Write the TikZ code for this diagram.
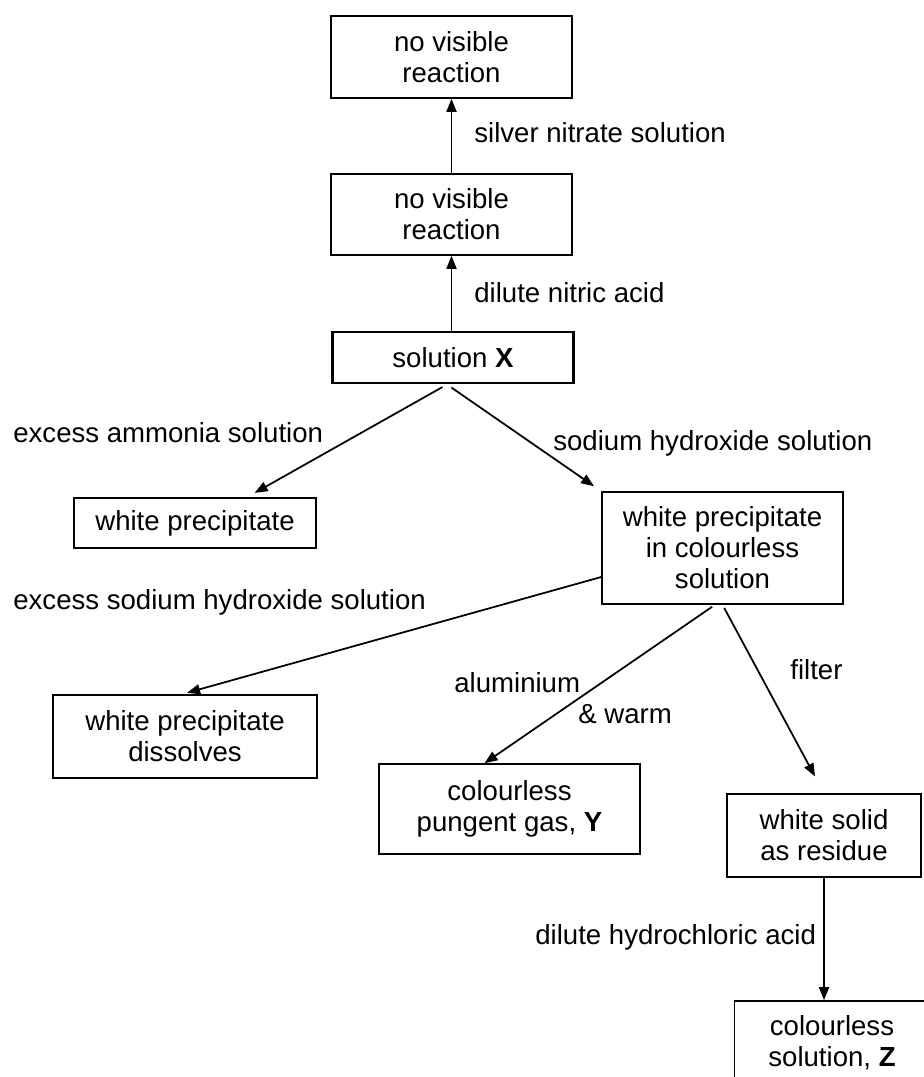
\documentclass[tikz,border=0pt]{standalone}
\usepackage{fontspec}
\setmainfont{Liberation Sans}
\usepackage{tikz}
\usetikzlibrary{arrows.meta, positioning}

\tikzset{
	testbox/.style={draw, line width=0.9pt, align=center, inner sep=0pt,
		minimum width=4.82cm, minimum height=1.64cm},
	reagent/.style={anchor=west, inner sep=0pt},
	flow/.style={line width=1pt, -{Triangle[length=0.26cm, width=0.2cm]}}
}

\begin{document}
\begin{tikzpicture}[x=0.02cm, y=-0.02cm,
		every node/.style={font=\fontsize{15.7}{17.6}\selectfont}]
		\useasboundingbox (0,0) rectangle (923,1077);
		% Boxes:
		\node[testbox](NoReactA) at (451.5, 57){no visible\\reaction};
		\node[testbox, minimum height=1.62cm](NoReactB) at (451.5, 214.5){no visible\\reaction};
		\node[testbox, line width=1.7pt, minimum width=4.84cm, minimum height=1.02cm](SolX) at (453, 357.5){solution \textbf{X}};
		\node[testbox, minimum width=4.84cm, minimum height=1cm](WhitePpt) at (195, 523){white precipitate};
		\node[testbox, minimum height=2.24cm](PptSol) at (722.5, 548){white precipitate\\in colourless\\solution};
		\node[testbox, minimum width=5.28cm, minimum height=1.66cm](Dissolves) at (185, 736.5){white precipitate\\dissolves};
		\node[testbox, minimum width=5.22cm, minimum height=1.8cm](GasY) at (509.5, 809){colourless\\pungent gas, \textbf{Y}};
		\node[testbox, minimum width=3.88cm, minimum height=1.66cm](Residue) at (824, 835.5){white solid\\as residue};
		\node[testbox, minimum width=3.9cm, minimum height=1.66cm](SolZ) at (832, 1042.5){colourless\\solution, \textbf{Z}};
		% Reagents:
		\node[reagent](LblSilver) at (474, 133){silver nitrate solution};
		\node[reagent](LblNitric) at (474, 293){dilute nitric acid};
		\node[reagent](LblAmmonia) at (13, 433){excess ammonia solution};
		\node[reagent](LblNaOH) at (553, 443){sodium hydroxide solution};
		\node[reagent](LblExcess) at (13, 602){excess sodium hydroxide solution};
		\node[reagent](LblAl) at (454, 683){aluminium};
		\node[reagent](LblWarm) at (578, 714){\& warm};
		\node[reagent](LblFilter) at (790, 670){filter};
		\node[reagent](LblHCl) at (535, 937){dilute hydrochloric acid};
		% Arrows:
		\draw[flow] (NoReactB.north -| NoReactA.south) -- (NoReactA.south);
		\draw[flow] (SolX.north -| NoReactB.south) -- (NoReactB.south);
		\draw[flow, shorten <=3pt, shorten >=5pt] ([xshift=-0.12cm]SolX.south) -- ([xshift=1.04cm]WhitePpt.north);
		\draw[flow, shorten <=3pt, shorten >=5pt] ([xshift=-0.12cm]SolX.south) -- (PptSol.north west);
		\draw[flow, shorten >=3pt] ([yshift=-0.58cm]PptSol.west) -- ([xshift=-0.06cm]Dissolves.north);
		\draw[flow, shorten <=2pt] ([xshift=-0.15cm]PptSol.south) -- ([xshift=-0.5cm]GasY.north);
		\draw[flow, shorten <=2pt, shorten >=0.38cm] (PptSol.south) -- (Residue.north);
		\draw[flow] (Residue.south) -- (Residue.south |- SolZ.north);
	\end{tikzpicture}
\end{document}
